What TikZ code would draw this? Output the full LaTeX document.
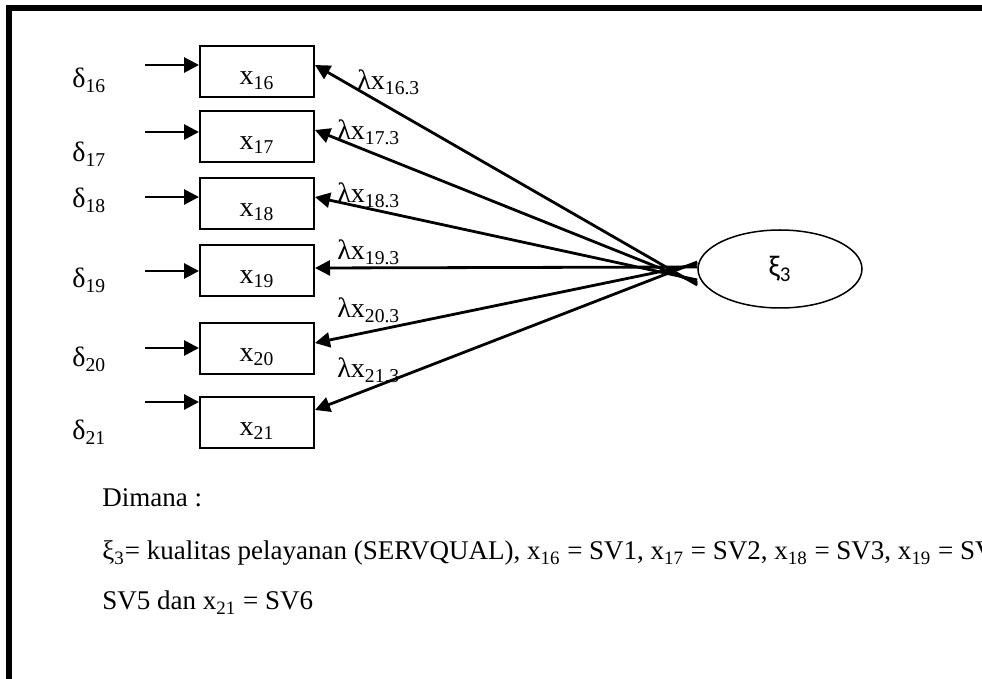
\documentclass[tikz,border=0pt]{standalone}
\usepackage{fontspec}
\setmainfont{Liberation Serif}
\newfontfamily\ellfont{Carlito}
\usetikzlibrary{arrows.meta,shapes.geometric}

\tikzset{
  obs/.style={draw, line width=1pt, minimum width=57pt, minimum height=25.5pt,
    inner sep=0pt, text height=13pt, text depth=0pt},
  arr/.style={-{Triangle[length=7.5pt,width=7.5pt]}, line width=1.4pt},
  lbl/.style={anchor=base west, inner sep=0pt},
}

\begin{document}
\begin{tikzpicture}[x=0.5pt, y=-0.5pt, font=\fontsize{14}{17}\selectfont]
  \useasboundingbox (0,0) rectangle (982,679);
  \clip (0,0) rectangle (982,679);
  % page frame, only top and left edge show
  \draw[line width=3pt] (8.5,720) -- (8.5,8) -- (1020,8);

  \node[ellipse, draw, line width=0.75pt, minimum width=82pt, minimum height=39pt,
    inner sep=0pt, font=\ellfont\fontsize{15}{18}\selectfont] (xi) at (780,269) {ξ\textsubscript{3}};

  % indicators x16..x21 with error terms and loadings
  \foreach \n/\yc/\ye/\yd/\yl/\xl/\tip/\src in {
      16/72/65/88/90/357/3.5/-8,
      17/136.5/132/162/140/337/3.25/-7,
      18/203.5/197/208/203/337/3.25/-5.5,
      19/270.5/271/288/260/337/1.25/1,
      20/348.5/348/367/318/337/2.75/2.5,
      21/422.5/402/440/378/337/6.25/3.5}
  {
    \node[obs] (x\n) at (257,\yc) {x\textsubscript{\n}};
    \node[lbl] (d\n) at (72,\yd) {δ\textsubscript{\n}};
    \coordinate (e\n) at (145,\ye);
    \draw[arr] (e\n) -- (e\n -| x\n.west);
    \coordinate (s\n) at ([yshift=\src pt]xi.west);
    \draw[arr] (s\n) -- ([yshift=\tip pt]x\n.east);
    \node[lbl] (l\n) at (\xl,\yl) {λx\textsubscript{\n.3}};
  }

  \begin{scope}[font=\fontsize{13.5}{16}\selectfont]
    \node[lbl] (where) at (102,507) {Dimana :};
    \node[lbl] (def1) at (102,560) {ξ\textsubscript{3}= kualitas pelayanan (SERVQUAL), x\textsubscript{16} = SV1, x\textsubscript{17} = SV2, x\textsubscript{18} = SV3, x\textsubscript{19} = SV4,};
    \node[lbl] (def2) at (102,610) {SV5 dan x\textsubscript{21} = SV6};
  \end{scope}
\end{tikzpicture}
\end{document}
